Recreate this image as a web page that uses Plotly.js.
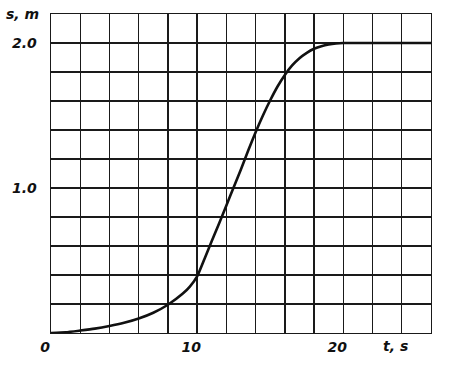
<!DOCTYPE html>
<html>
<head>
<meta charset="utf-8">
<script src="https://cdn.plot.ly/plotly-3.0.1.min.js"></script>
<style>html,body{margin:0;padding:0;background:#fff}#chart{width:449px;height:373px}</style>
</head>
<body>
<div id="chart"></div>
<script>
const tValues = [0, 1, 2, 3, 4, 5, 6, 7, 8, 9, 9.5, 10, 10.5, 11, 11.5, 12, 12.5, 13, 13.5, 14, 14.5, 15, 15.5, 16, 16.5, 17, 17.5, 18, 18.5, 19, 19.5, 20, 21, 22, 23, 24, 25, 26];
const sValues = [0, 0.005, 0.017, 0.03, 0.048, 0.07, 0.1, 0.14, 0.195, 0.27, 0.32, 0.39, 0.51, 0.635, 0.755, 0.88, 1.005, 1.13, 1.26, 1.385, 1.5, 1.605, 1.7, 1.78, 1.845, 1.895, 1.932, 1.96, 1.978, 1.99, 1.997, 2.0, 2.0, 2.0, 2.0, 2.0, 2.0, 2.0];
const xTickVals = [0, 2, 4, 6, 8, 10, 12, 14, 16, 18, 20, 22, 24, 26];
const xTickText = ['0', '', '', '', '', '10', '', '', '', '', '20', '', '', ''];
const yTickVals = [0, 0.2, 0.4, 0.6, 0.8, 1.0, 1.2, 1.4, 1.6, 1.8, 2.0, 2.2];
const yTickText = ['', '', '', '', '', '1.0', '', '', '', '', '2.0', ''];
const xLabel = 't, s';
const yLabel = 's, m';

const labelFont = {family: 'DejaVu Sans, Liberation Sans, sans-serif', size: 14, color: '#111', style: 'italic', weight: 'bold'};

const trace = {
  x: tValues, y: sValues, type: 'scatter', mode: 'lines',
  line: {color: '#111', width: 2.6, shape: 'spline', smoothing: 0.5},
  hoverinfo: 'skip'
};

const layout = {
  width: 449, height: 373,
  margin: {l: 51, r: 18, t: 14, b: 40},
  paper_bgcolor: '#fff', plot_bgcolor: '#fff',
  showlegend: false,
  xaxis: {
    range: [0, 26], tickmode: 'array', tickvals: xTickVals, ticktext: xTickText,
    showgrid: true, gridcolor: '#1a1a1a', gridwidth: 1.4,
    showline: true, mirror: true, linecolor: '#1a1a1a', linewidth: 1.4,
    zeroline: false, ticks: '', tickfont: labelFont, ticklabelshift: -6, ticklabelstandoff: 1,
    fixedrange: true
  },
  yaxis: {
    range: [0, 2.2], tickmode: 'array', tickvals: yTickVals, ticktext: yTickText,
    showgrid: true, gridcolor: '#1a1a1a', gridwidth: 1.4,
    showline: true, mirror: true, linecolor: '#1a1a1a', linewidth: 1.4,
    zeroline: false, ticks: '', tickfont: labelFont, ticklabelstandoff: 10,
    fixedrange: true
  },
  annotations: [
    {text: xLabel, x: 23.6, y: 0, xref: 'x', yref: 'paper', yanchor: 'top', yshift: -3, showarrow: false, font: labelFont},
    {text: yLabel, x: 0, y: 1, xref: 'paper', yref: 'paper', xanchor: 'right', yanchor: 'middle', xshift: -10, yshift: 0, showarrow: false, font: labelFont}
  ]
};

Plotly.newPlot('chart', [trace], layout, {displayModeBar: false, staticPlot: true});
</script>
</body>
</html>
